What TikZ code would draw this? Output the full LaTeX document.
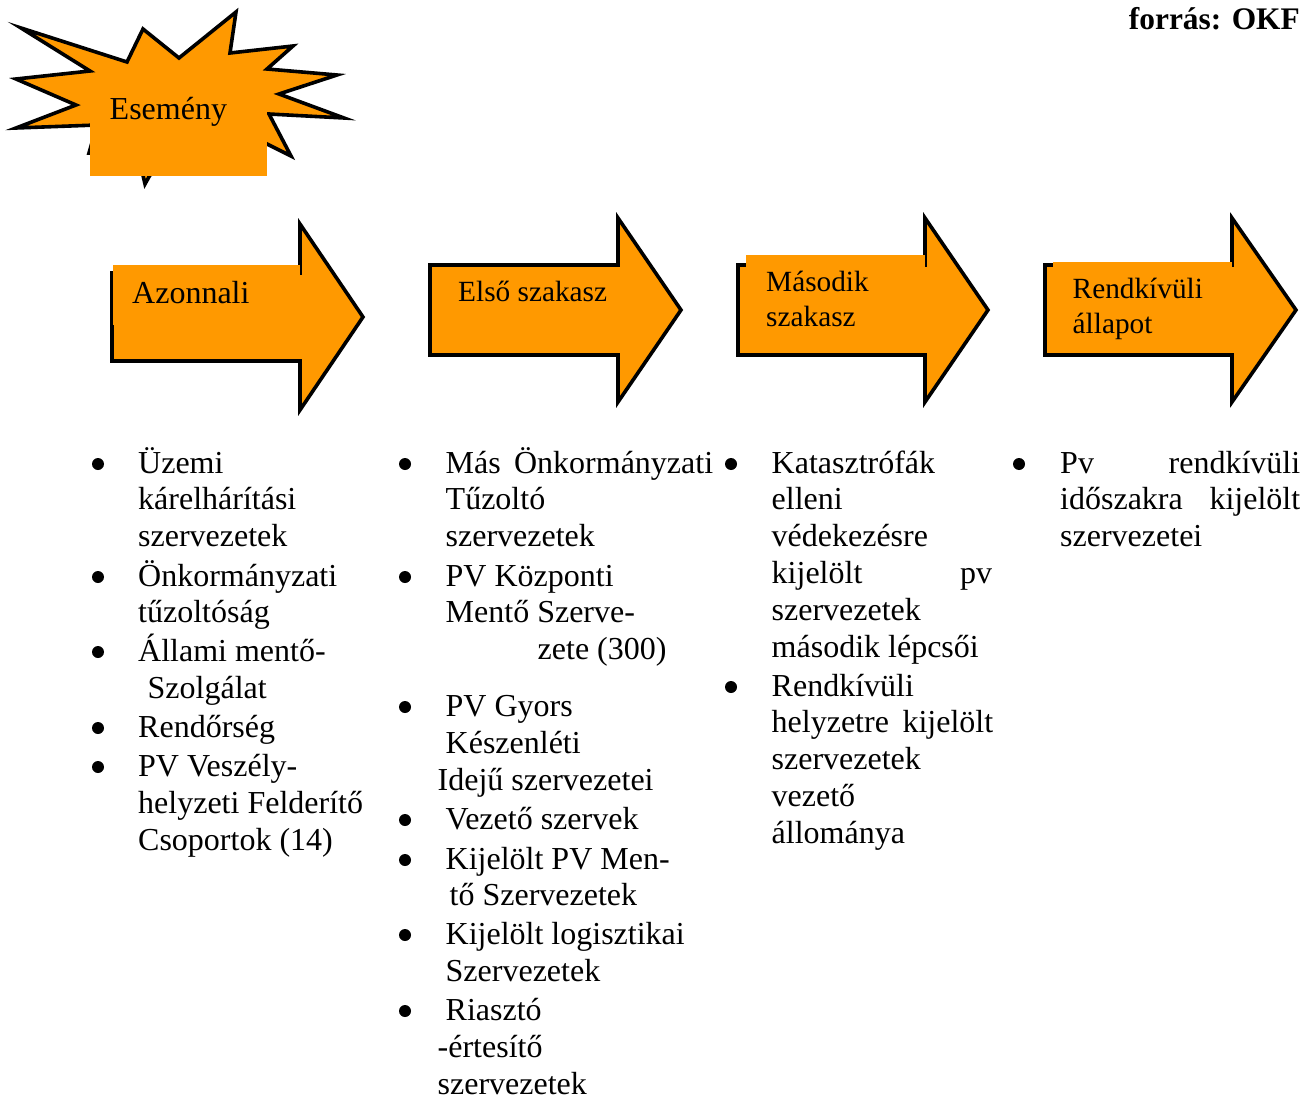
\documentclass[tikz,border=0pt]{standalone}
\usepackage{fontspec}
\setmainfont{Liberation Serif}
\definecolor{okforange}{HTML}{FF9900}

\begin{document}
\begin{tikzpicture}[x=1pt,y=-1pt,
    outline/.style ={draw, fill=okforange, line width=3.6pt, miter limit=20},
    patch/.style ={fill=okforange},
    listline/.style ={anchor=base west, inner sep=0pt, font=\fontsize{32}{37}\selectfont},
    listbullet/.style ={circle, fill, inner sep=0pt, minimum size=12pt},
    arrowtitle/.style ={anchor=base west, inner sep=0pt, font=\fontsize{29.3}{36}\selectfont}]
   \useasboundingbox (0,0) rectangle (1312,1097);
   % source
   \node[anchor=base east, inner sep=0pt, font=\fontsize{31.4}{37}\selectfont\bfseries] (source) at (1300,30) {forrás: OKF};
   % event
   \draw[outline] (21,28) -- (127,62) -- (143,29) -- (179,58) -- (236,12) -- (230,53) -- (293,46)
      -- (267,69) -- (337,75) -- (279,94) -- (344,118) -- (269,114) -- (291,156) -- (265,143)
      -- (200,150) -- (150,175) -- (145,184) -- (137,150) -- (89,153) -- (97,125) -- (16,128)
      -- (76,105) -- (16,79) -- (90,71) -- cycle;
   \fill[patch] (90,90) rectangle (267,176);
   \node[listline] (event) at (109.5,120) {Esemény};
   % arrows
   \foreach \ax/\atop/\abot/\ahead/\amid/\atip/\apoint in {
      112/273/361/300/317/93/63, 430/265/355/618/310/92/63,
      738/265/355/925/310/92/63, 1045/265/355/1232/310/92/64}
      \draw[outline] (\ax,\atop) -- (\ahead,\atop) -- (\ahead,\amid-\atip) -- (\ahead+\apoint,\amid)
         -- (\ahead,\amid+\atip) -- (\ahead,\abot) -- (\ax,\abot) -- cycle;
   \fill[patch] (112.5,265) rectangle (300,325);
   \fill[patch] (433,267) rectangle (618,325);
   \fill[patch] (746,255) rectangle (925,325);
   \fill[patch] (1053,262) rectangle (1232,325);
   \node[listline] (azonnali) at (132,303) {Azonnali};
   \node[arrowtitle] (elso) at (458,301) {Első szakasz};
   \node[arrowtitle] (masodik) at (766,291) {Második};
   \node[arrowtitle] (szakasz) at (766,326) {szakasz};
   \node[arrowtitle] (rendkivuli) at (1072.5,298) {Rendkívüli};
   \node[arrowtitle] (allapot) at (1072.5,333) {állapot};
   % bullets
   \foreach \bx/\by in {98/464, 98/577, 98/652, 98/728, 98/767,
      405/464, 405/577, 405/707, 405/820, 405/860, 405/935, 405/1011,
      731/464, 731/687, 1019/464}
      \node[listbullet] (b\bx-\by) at (\bx,\by) {};
   % text lines
   \foreach \tx/\ty/\ttext in {
      138/473/Üzemi, 138/509/kárelhárítási, 138/546/szervezetek, 138/586/Önkormányzati,
      138/622/tűzoltóság, 138/661/Állami mentő-, 147.5/698/Szolgálat, 138/737/Rendőrség,
      138/776/PV Veszély-, 138/813/helyzeti Felderítő, 138/850/Csoportok (14),
      445.5/473/{\makebox[267.5pt][s]{Más Önkormányzati}}, 445.5/509/Tűzoltó, 445.5/546/szervezetek,
      445.5/586/PV Központi, 445.5/622/Mentő Szerve-, 537.5/659/zete (300), 445.5/716/PV Gyors,
      445.5/753/Készenléti, 437.5/790/Idejű szervezetei, 445.5/829/Vezető szervek,
      445.5/869/Kijelölt PV Men-, 449.5/905/tő Szervezetek, 445.5/944/Kijelölt logisztikai,
      445.5/981/Szervezetek, 445.5/1020/Riasztó, 437.5/1057/-értesítő, 437.5/1094/szervezetek,
      771.5/473/Katasztrófák, 771.5/509/elleni, 771.5/546/védekezésre,
      771.5/583/{\makebox[220.5pt][s]{kijelölt pv}}, 771.5/620/szervezetek, 771.5/657/második lépcsői,
      771.5/696/Rendkívüli, 771.5/732/{\makebox[221.5pt][s]{helyzetre kijelölt}}, 771.5/769/szervezetek,
      771.5/806/vezető, 771.5/843/állománya,
      1060/473/{\makebox[240pt][s]{Pv rendkívüli}}, 1060/509/{\makebox[240pt][s]{időszakra kijelölt}},
      1060/546/szervezetei}
      \node[listline] (t\tx-\ty) at (\tx,\ty) {\ttext};
\end{tikzpicture}
\end{document}
